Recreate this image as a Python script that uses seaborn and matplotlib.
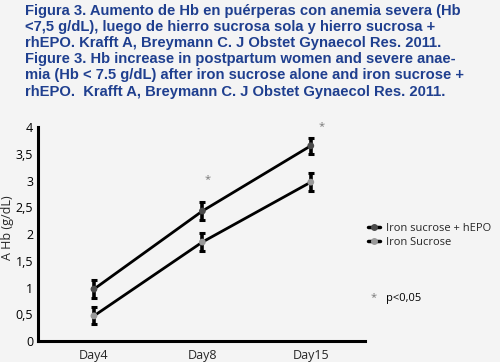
import matplotlib
matplotlib.use("Agg")
import matplotlib.pyplot as plt
import seaborn as sns
import pandas as pd
import numpy as np
from matplotlib.ticker import MultipleLocator, FuncFormatter
from matplotlib.lines import Line2D

days = ["Day4", "Day8", "Day15"]
epo_vals = [0.97, 2.43, 3.65]
epo_err = [0.17, 0.17, 0.15]
suc_vals = [0.47, 1.85, 2.97]
suc_err = [0.16, 0.17, 0.17]
series_names = ["Iron sucrose + hEPO", "Iron Sucrose"]
title_text = ("Figura 3. Aumento de Hb en puérperas con anemia severa (Hb\n"
              "<7,5 g/dL), luego de hierro sucrosa sola y hierro sucrosa +\n"
              "rhEPO. Krafft A, Breymann C. J Obstet Gynaecol Res. 2011.\n"
              "Figure 3. Hb increase in postpartum women and severe anae-\n"
              "mia (Hb < 7.5 g/dL) after iron sucrose alone and iron sucrose +\n"
              "rhEPO.  Krafft A, Breymann C. J Obstet Gynaecol Res. 2011.")

sns.set_style("white")
plt.rcParams['font.family'] = ['Open Sans', 'DejaVu Sans']

df = pd.DataFrame({
    "day": days * 2,
    "val": epo_vals + suc_vals,
    "err": epo_err + suc_err,
    "series": [series_names[0]] * 3 + [series_names[1]] * 3,
})

bg = "#f4f4f4"
fig = plt.figure(figsize=(5, 3.62), dpi=100, facecolor=bg)
ax = fig.add_axes([0.076, 0.058, 0.654, 0.591], facecolor=bg)

marker_colors = {series_names[0]: "#4a4a4a", series_names[1]: "#9a9a9a"}
sns.lineplot(data=df, x="day", y="val", hue="series", palette={s: "black" for s in series_names},
             linewidth=2.0, legend=False, ax=ax, sort=False, zorder=2)
xpos = np.arange(len(days))
for s in series_names:
    sub = df[df.series == s]
    ax.errorbar(xpos, sub["val"], yerr=sub["err"], fmt="none", ecolor="black",
                elinewidth=2.6, capsize=2.2, capthick=2.2, zorder=3)
    ax.scatter(xpos, sub["val"], s=24, color=marker_colors[s], zorder=4, edgecolor="none")

ax.set_xlim(-0.516, 2.5)
ax.set_ylim(0, 4)
ax.yaxis.set_major_locator(MultipleLocator(0.5))
ax.yaxis.set_minor_locator(MultipleLocator(0.1))
ax.yaxis.set_major_formatter(FuncFormatter(lambda v, p: ("%g" % v).replace(".", ",")))
for sp in ["top", "right"]:
    ax.spines[sp].set_visible(False)
for sp in ["left", "bottom"]:
    ax.spines[sp].set_linewidth(2.2)
    ax.spines[sp].set_color("black")
ax.tick_params(axis="y", which="major", direction="inout", length=5, width=2, labelsize=9, pad=1, colors="black")
ax.tick_params(axis="y", which="minor", direction="inout", length=4, width=2)
ax.tick_params(axis="x", which="major", length=0, labelsize=9, pad=6)
ax.set_xlabel("")
ax.set_ylabel("A Hb (g/dL)", fontsize=9, labelpad=2)
ax.yaxis.set_label_coords(-0.072, 0.53)

# significance stars
ax.text(1.05, 3.02, "*", color="#777777", fontsize=8, ha="center", va="center")
ax.text(2.1, 4.0, "*", color="#777777", fontsize=8, ha="center", va="center", clip_on=False)

fig.text(0.05, 0.99, title_text, color="#1f3f8f", fontsize=10.6, fontweight="bold",
         family="Liberation Sans", ha="left", va="top", linespacing=1.2)

handles = [Line2D([0], [0], color="black", lw=2.5, marker="o", markersize=4,
                  markerfacecolor=marker_colors[s], markeredgecolor=marker_colors[s]) for s in series_names]
fig.legend(handles, series_names, loc="upper left", bbox_to_anchor=(0.72, 0.405), frameon=False,
           fontsize=8, handlelength=1.1, handletextpad=0.5, labelspacing=0.25, borderpad=0.2)

fig.text(0.742, 0.177, "*", color="#777777", fontsize=8, ha="left", va="center")
fig.text(0.772, 0.175, "p<0,05", color="black", fontsize=8, ha="left", va="center")

fig.savefig("out.png", dpi=100, facecolor=bg)
